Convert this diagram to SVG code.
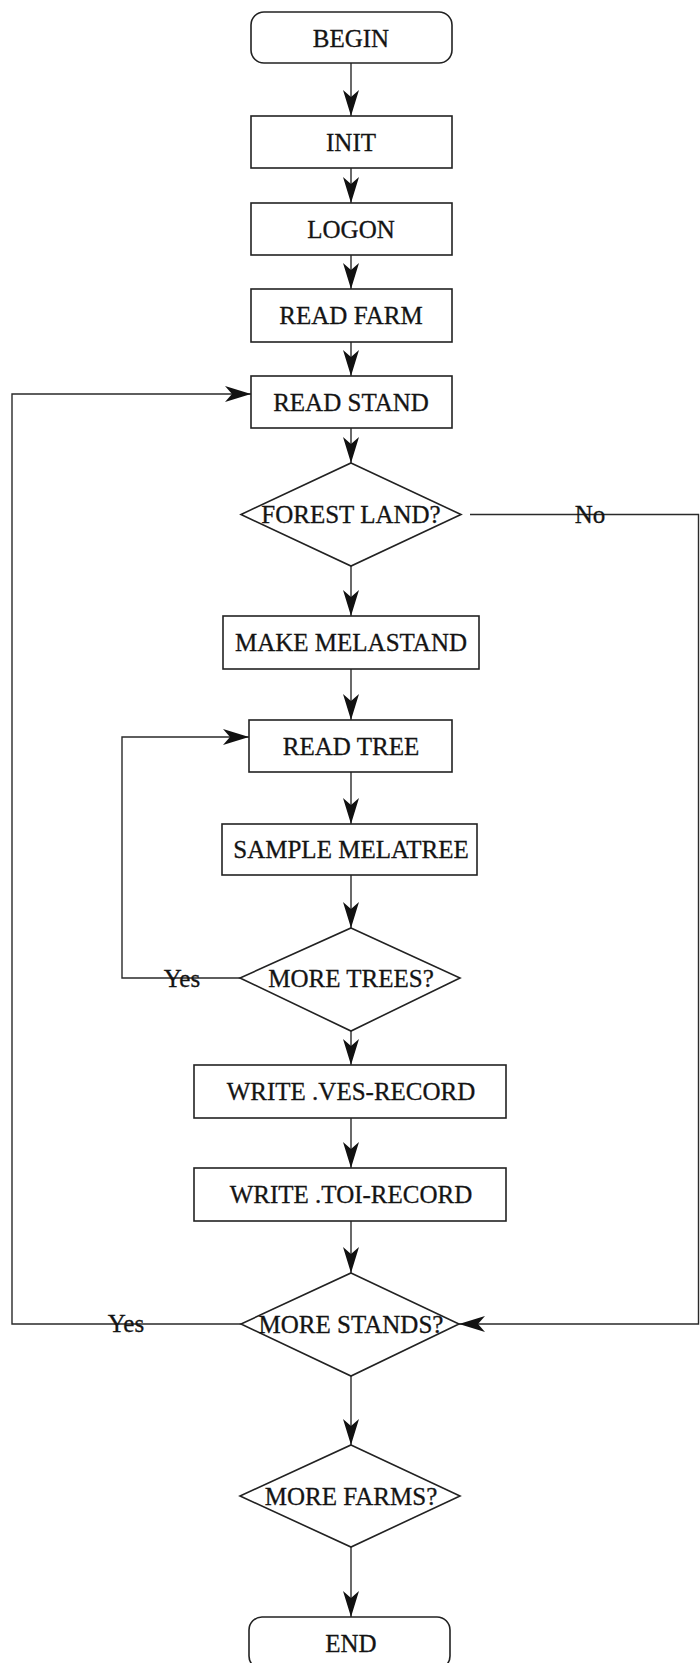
<svg xmlns="http://www.w3.org/2000/svg" width="700" height="1663" viewBox="0 0 700 1663">
  <style>
    .box { fill: #ffffff; stroke: #222222; stroke-width: 1.6; }
    .lbl { font-family: "Liberation Serif", "Times New Roman", serif; font-size: 25px; fill: #141414; stroke: #141414; stroke-width: 0.3; text-anchor: middle; }
    .edge { fill: none; stroke: #2a2a2a; stroke-width: 1.4; }
    .tag { font-family: "Liberation Serif", "Times New Roman", serif; font-size: 25px; fill: #141414; stroke: #141414; stroke-width: 0.3; text-anchor: middle; }
  </style>
  <defs>
    <marker id="arrow" markerUnits="userSpaceOnUse" markerWidth="30" markerHeight="20" viewBox="-28 -10 30 20" refX="0" refY="0" orient="auto">
      <path d="M 0 0 L -26 -8 L -19 0 L -26 8 Z" fill="#111111"/>
    </marker>
  </defs>

  <rect width="700" height="1663" fill="#ffffff"/>

  <!-- connectors -->
  <g id="connectors">
    <line class="edge" x1="351" y1="63" x2="351" y2="116" marker-end="url(#arrow)"/>
    <line class="edge" x1="351" y1="168" x2="351" y2="203" marker-end="url(#arrow)"/>
    <line class="edge" x1="351" y1="255" x2="351" y2="289" marker-end="url(#arrow)"/>
    <line class="edge" x1="351" y1="342" x2="351" y2="376" marker-end="url(#arrow)"/>
    <line class="edge" x1="351" y1="428" x2="351" y2="463" marker-end="url(#arrow)"/>
    <line class="edge" x1="351" y1="566" x2="351" y2="616" marker-end="url(#arrow)"/>
    <line class="edge" x1="351" y1="669" x2="351" y2="720" marker-end="url(#arrow)"/>
    <line class="edge" x1="351" y1="772" x2="351" y2="824" marker-end="url(#arrow)"/>
    <line class="edge" x1="351" y1="875" x2="351" y2="928" marker-end="url(#arrow)"/>
    <line class="edge" x1="351" y1="1031" x2="351" y2="1065" marker-end="url(#arrow)"/>
    <line class="edge" x1="351" y1="1118" x2="351" y2="1168" marker-end="url(#arrow)"/>
    <line class="edge" x1="351" y1="1221" x2="351" y2="1273" marker-end="url(#arrow)"/>
    <line class="edge" x1="351" y1="1376" x2="351" y2="1445" marker-end="url(#arrow)"/>
    <line class="edge" x1="351" y1="1547" x2="351" y2="1617" marker-end="url(#arrow)"/>

    <!-- MORE TREES? yes: back to READ TREE -->
    <polyline class="edge" points="240,978 122,978 122,737 249,737" marker-end="url(#arrow)"/>
    <text class="tag" x="182" y="987">Yes</text>

    <!-- MORE STANDS? yes: back to READ STAND -->
    <polyline class="edge" points="241,1324 12,1324 12,394 251,394" marker-end="url(#arrow)"/>
    <text class="tag" x="126" y="1332">Yes</text>

    <!-- FOREST LAND? no: skip to MORE STANDS? -->
    <polyline class="edge" points="470,514.5 698.5,514.5 698.5,1324 459,1324" marker-end="url(#arrow)"/>
    <text class="tag" x="590" y="523">No</text>
  </g>

  <g id="begin">
    <rect class="box" x="251" y="12" width="201" height="51" rx="13"/>
    <text class="lbl" x="351" y="47">BEGIN</text>
  </g>
  <g id="init">
    <rect class="box" x="251" y="116" width="201" height="52"/>
    <text class="lbl" x="351" y="151">INIT</text>
  </g>
  <g id="logon">
    <rect class="box" x="251" y="203" width="201" height="52"/>
    <text class="lbl" x="351" y="238">LOGON</text>
  </g>
  <g id="read-farm">
    <rect class="box" x="251" y="289" width="201" height="53"/>
    <text class="lbl" x="351" y="324">READ FARM</text>
  </g>
  <g id="read-stand">
    <rect class="box" x="251" y="376" width="201" height="52"/>
    <text class="lbl" x="351" y="411">READ STAND</text>
  </g>
  <g id="forest-land">
    <polygon class="box" points="351,463 461,514.5 351,566 241,514.5"/>
    <text class="lbl" x="351" y="523">FOREST LAND?</text>
  </g>
  <g id="make-melastand">
    <rect class="box" x="223" y="616" width="256" height="53"/>
    <text class="lbl" x="351" y="651">MAKE MELASTAND</text>
  </g>
  <g id="read-tree">
    <rect class="box" x="249" y="720" width="203" height="52"/>
    <text class="lbl" x="351" y="755">READ TREE</text>
  </g>
  <g id="sample-melatree">
    <rect class="box" x="222" y="824" width="255" height="51"/>
    <text class="lbl" x="351" y="858">SAMPLE MELATREE</text>
  </g>
  <g id="more-trees">
    <polygon class="box" points="351,928 460,978 351,1031 240,978"/>
    <text class="lbl" x="351" y="987">MORE TREES?</text>
  </g>
  <g id="write-ves">
    <rect class="box" x="194" y="1065" width="312" height="53"/>
    <text class="lbl" x="351" y="1100">WRITE .VES-RECORD</text>
  </g>
  <g id="write-toi">
    <rect class="box" x="194" y="1168" width="312" height="53"/>
    <text class="lbl" x="351" y="1203">WRITE .TOI-RECORD</text>
  </g>
  <g id="more-stands">
    <polygon class="box" points="351,1273 459,1324 351,1376 241,1324"/>
    <text class="lbl" x="351" y="1333">MORE STANDS?</text>
  </g>
  <g id="more-farms">
    <polygon class="box" points="351,1445 460,1496 351,1547 240,1496"/>
    <text class="lbl" x="351" y="1505">MORE FARMS?</text>
  </g>
  <g id="end">
    <rect class="box" x="249" y="1617" width="201" height="52" rx="13"/>
    <text class="lbl" x="351" y="1652">END</text>
  </g>
</svg>
